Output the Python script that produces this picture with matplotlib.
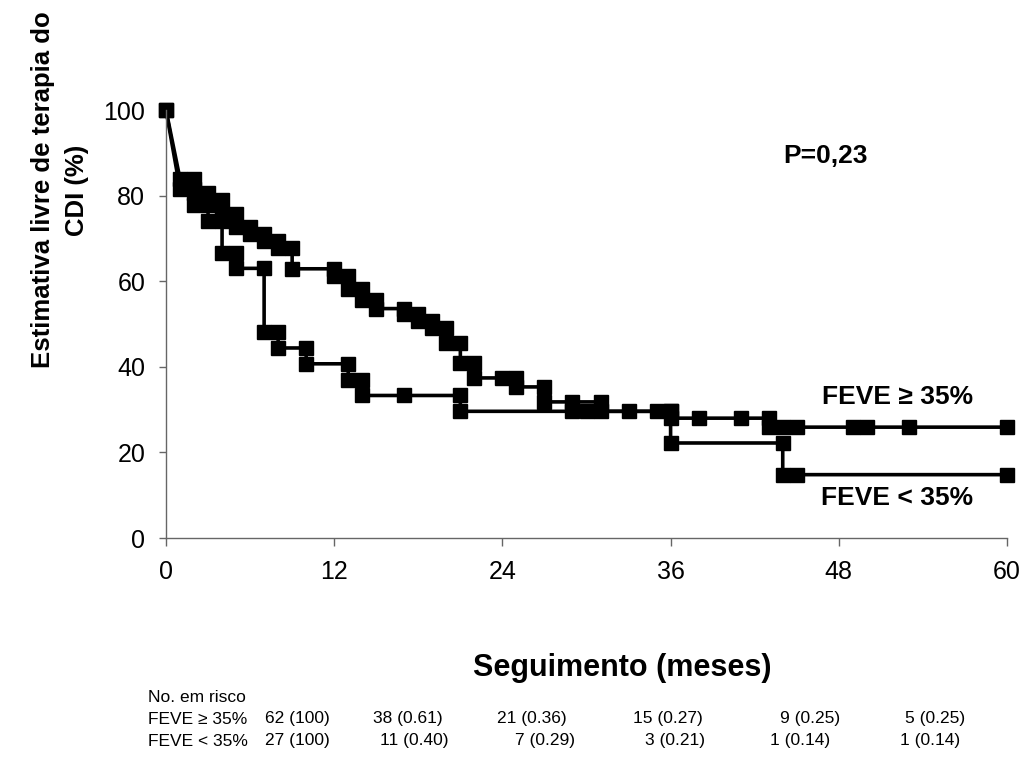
import matplotlib
matplotlib.use("Agg")
import matplotlib.pyplot as plt

plt.rcParams['font.family'] = ['Liberation Sans', 'DejaVu Sans']

# Kaplan-Meier curves (months, % free of ICD therapy)
feve_hi_x = [0, 1, 2, 2, 3, 3, 4, 4, 5, 5, 6, 6, 7, 7, 8, 8, 9, 9, 12, 12, 13, 13,
             14, 14, 15, 15, 17, 17, 18, 18, 19, 19, 20, 20, 21, 21, 22, 22, 24,
             25, 25, 27, 27, 29, 31, 31, 33, 35, 36, 36, 38, 41, 43, 43, 44, 45,
             49, 50, 53, 60]
feve_hi_y = [100, 83.9, 83.9, 80.6, 80.6, 79.0, 79.0, 75.8, 75.8, 72.6, 72.6, 71.0,
             71.0, 69.4, 69.4, 67.7, 67.7, 62.9, 62.9, 61.3, 61.3, 58.1, 58.1, 55.6,
             55.6, 53.6, 53.6, 52.3, 52.3, 50.7, 50.7, 49.1, 49.1, 45.6, 45.6, 40.9,
             40.9, 37.4, 37.4, 37.4, 35.3, 35.3, 31.8, 31.8, 31.8, 29.6, 29.6, 29.6,
             29.6, 28.0, 28.0, 28.0, 28.0, 25.9, 25.9, 25.9, 25.9, 25.9, 25.9, 25.9]

feve_lo_x = [0, 1, 2, 2, 3, 3, 4, 4, 5, 5, 7, 7, 8, 8, 10, 10, 13, 13, 14, 14, 17,
             21, 21, 29, 30, 36, 36, 44, 44, 45, 60]
feve_lo_y = [100, 81.5, 81.5, 77.8, 77.8, 74.1, 74.1, 66.7, 66.7, 63.0, 63.0, 48.1,
             48.1, 44.4, 44.4, 40.7, 40.7, 37.0, 37.0, 33.3, 33.3, 33.3, 29.6, 29.6,
             29.6, 29.6, 22.2, 22.2, 14.8, 14.8, 14.8]

x_ticks = [0, 12, 24, 36, 48, 60]
y_ticks = [0, 20, 40, 60, 80, 100]

# Numbers at risk table
risk_title = "No. em risco"
risk_groups = ["FEVE \u2265 35%", "FEVE < 35%"]
risk_hi = ["62 (100)", "38 (0.61)", "21 (0.36)", "15 (0.27)", "9 (0.25)", "5 (0.25)"]
risk_lo = ["27 (100)", "11 (0.40)", "7 (0.29)", "3 (0.21)", "1 (0.14)", "1 (0.14)"]

W, H = 1024, 757
fig = plt.figure(figsize=(W / 100, H / 100), dpi=100)
ax = fig.add_axes([166 / W, 1 - 538 / H, (1007 - 166) / W, (538 - 110) / H])

style = dict(color='black', lw=2.6, marker='s', markersize=10, clip_on=False,
             solid_joinstyle='miter')
ax.plot(feve_hi_x, feve_hi_y, **style)
ax.plot(feve_lo_x, feve_lo_y, **style)

ax.set_xlim(0, 60)
ax.set_ylim(0, 100)
ax.set_xticks(x_ticks)
ax.set_yticks(y_ticks)
ax.tick_params(axis='both', labelsize=18, colors='#000000', direction='out')
ax.tick_params(axis='x', length=6, width=1, pad=10, color='#666666')
ax.tick_params(axis='y', length=5, width=1, pad=10, color='#666666')
for s in ['top', 'right']:
    ax.spines[s].set_visible(False)
for s in ['left', 'bottom']:
    ax.spines[s].set_color('#666666')
    ax.spines[s].set_linewidth(1)

ax.text(0.784, 0.892, "P=0,23", transform=ax.transAxes, fontsize=19,
        fontweight='bold', ha='center', va='center')
ax.text(57.6, 33.0, "FEVE \u2265 35%", fontsize=19, fontweight='bold',
        ha='right', va='center')
ax.text(57.6, 9.3, "FEVE < 35%", fontsize=19, fontweight='bold',
        ha='right', va='center')

fig.text(622 / W, 1 - 668 / H, "Seguimento (meses)", fontsize=22,
         fontweight='bold', ha='center', va='center')
fig.text(60 / W, 1 - 190 / H, "Estimativa livre de terapia do\nCDI (%)",
         fontsize=18.5, fontweight='bold', rotation=90, ha='center',
         va='center', multialignment='center', linespacing=1.55)

# risk table
fs = 12.5
fig.text(148 / W, 1 - 697 / H, risk_title, fontsize=fs, va='center')
col_x = [265, 373, 497, 633, 780, 905]
col_x_lo = [265, 380, 515, 645, 770, 900]
for row_y, label, vals, cx in [(719, risk_groups[0], risk_hi, col_x),
                               (741, risk_groups[1], risk_lo, col_x_lo)]:
    fig.text(148 / W, 1 - row_y / H, label, fontsize=fs, va='center')
    for x, v in zip(cx, vals):
        fig.text(x / W, 1 - row_y / H, v, fontsize=fs, va='center')

fig.savefig("out.png", dpi=100)
